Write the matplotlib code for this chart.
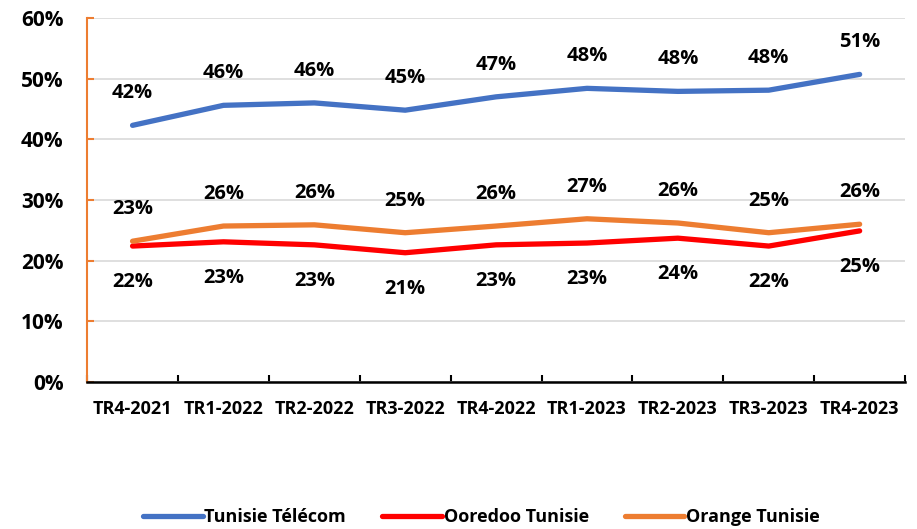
import matplotlib
matplotlib.use('Agg')
import matplotlib.pyplot as plt
import numpy as np
from matplotlib.ticker import FixedLocator, PercentFormatter

BLUE = '#4472C4'
RED = '#FF0000'
ORANGE = '#ED7D31'

plt.rcParams['font.family'] = ['Open Sans', 'DejaVu Sans']

quarters = ['TR4-2021', 'TR1-2022', 'TR2-2022', 'TR3-2022', 'TR4-2022',
            'TR1-2023', 'TR2-2023', 'TR3-2023', 'TR4-2023']
tunisie_telecom = [42.3, 45.6, 46.0, 44.8, 47.0, 48.4, 47.9, 48.1, 50.7]
ooredoo = [22.4, 23.1, 22.6, 21.3, 22.6, 22.9, 23.7, 22.4, 24.9]
orange = [23.2, 25.7, 25.9, 24.6, 25.7, 26.9, 26.2, 24.6, 26.0]

fig = plt.figure(figsize=(9.17, 5.29), dpi=100)
ax = fig.add_axes([0.095, 0.278, 0.892, 0.688])

x = np.arange(len(quarters))
series = [
    (tunisie_telecom, BLUE, 'Tunisie Télécom', 23),
    (ooredoo, RED, 'Ooredoo Tunisie', -26),
    (orange, ORANGE, 'Orange Tunisie', 23),
]
for vals, col, name, off in series:
    ax.plot(x, vals, color=col, linewidth=3.8, solid_capstyle='round', label=name, zorder=3)
    for xi, v in zip(x, vals):
        ax.annotate(f'{round(v):.0f}%', (xi, v), xytext=(0, off), textcoords='offset points',
                    ha='center', va='center', fontsize=14.5, fontweight='bold', color='black')

ax.set_xlim(-0.5, len(quarters) - 0.5)
ax.set_ylim(0, 60)
ax.set_yticks(np.arange(0, 61, 10))
ax.yaxis.set_major_formatter(PercentFormatter(decimals=0))
ax.grid(axis='y', color='#D9D9D9', linewidth=1.2, zorder=0)
ax.set_axisbelow(True)

ax.set_xticks(x)
ax.set_xticklabels(quarters)
ax.xaxis.set_minor_locator(FixedLocator(np.arange(-0.5, len(quarters), 1)))
ax.tick_params(axis='x', which='major', length=0, pad=13, labelsize=13)
ax.tick_params(axis='x', which='minor', direction='in', length=5, width=1.5, color='black')
ax.tick_params(axis='y', direction='in', length=5, width=1.5, color=ORANGE, pad=17, labelsize=15)
for lab in ax.get_xticklabels() + ax.get_yticklabels():
    lab.set_fontweight('bold')

ax.spines['top'].set_visible(False)
ax.spines['right'].set_visible(False)
ax.spines['left'].set_color(ORANGE)
ax.spines['left'].set_linewidth(1.5)
ax.spines['bottom'].set_color('black')
ax.spines['bottom'].set_linewidth(1.8)

leg = fig.legend(loc='center', bbox_to_anchor=(0.525, 0.022), ncol=3, frameon=False,
                 handlelength=3.3, handletextpad=0.1, columnspacing=2.0,
                 prop={'weight': 'bold', 'size': 13})

fig.savefig('out.png', dpi=100, facecolor='white')
